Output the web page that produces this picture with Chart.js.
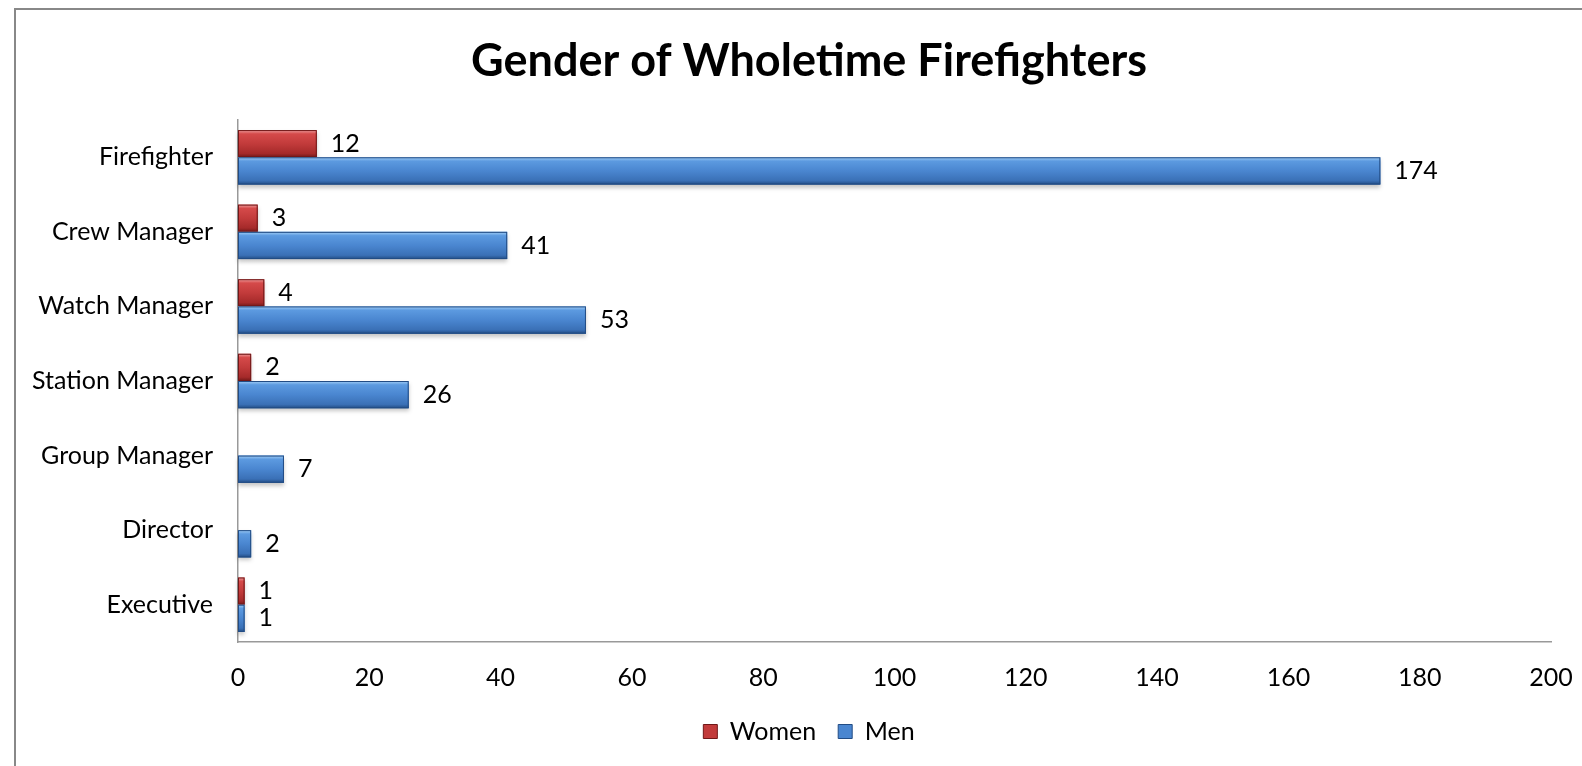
<!DOCTYPE html>
<html>
<head>
<meta charset="utf-8">
<script src="https://cdn.jsdelivr.net/npm/chart.js@4.4.0/dist/chart.umd.min.js"></script>
<style>
  html, body { margin: 0; padding: 0; background: #fff; overflow: hidden; }
  #wrap { width: 1582px; height: 766px; position: relative; }
</style>
</head>
<body>
<div id="wrap"><canvas id="genderChart" width="1582" height="766"></canvas></div>
<script>
// du lieu doc tu hinh
const categories = ['Firefighter', 'Crew Manager', 'Watch Manager', 'Station Manager', 'Group Manager', 'Director', 'Executive'];
const womenValues = [12, 3, 4, 2, 0, 0, 1];
const menValues = [174, 41, 53, 26, 7, 2, 1];
const xTicks = [0, 20, 40, 60, 80, 100, 120, 140, 160, 180, 200];

const FONT = "Lato, 'Open Sans', 'Noto Sans', sans-serif";

// mau cho hieu ung 3D (sang -> chinh -> toi)
const shades = {
    Women: ['#f0a0a0', '#d54a4a', '#c23b3b', '#a52a2a', '#701818'],
    Men: ['#a4d0f7', '#5c9ae0', '#4a86d0', '#3a70b6', '#224c84']
};

// khung xam ben ngoai
const framePlugin = {
    id: 'frame',
    afterLayout(chart) {
        // tieu de va chu thich lech phai mot chut nhu hinh goc
        const shift = 18;
        [chart.titleBlock, chart.legend].forEach(b => {
            if (b) { b.left += shift; b.right += shift; }
        });
    },
    beforeDraw(chart) {
        const ctx = chart.ctx;
        ctx.save();
        ctx.fillStyle = '#fff';
        ctx.fillRect(0, 0, chart.width, chart.height);
        ctx.strokeStyle = '#888';
        ctx.lineWidth = 2;
        ctx.strokeRect(15, 9, chart.width + 20, chart.height + 20);
        ctx.restore();
    }
};

// to gradient cho thanh + ve nhan gia tri
const barStylePlugin = {
    id: 'barStyle',
    afterDatasetsDraw(chart) {
        const ctx = chart.ctx;
        chart.data.datasets.forEach((ds, i) => {
            const meta = chart.getDatasetMeta(i);
            const c = shades[ds.label];
            meta.data.forEach((bar, j) => {
                const v = ds.data[j];
                if (!v) return;
                const p = bar.getProps(['x', 'y', 'base', 'height'], true);
                const top = p.y - p.height / 2;
                const w = p.x - p.base;
                const g = ctx.createLinearGradient(0, top, 0, top + p.height);
                g.addColorStop(0, c[0]);
                g.addColorStop(0.14, c[1]);
                g.addColorStop(0.5, c[2]);
                g.addColorStop(0.86, c[3]);
                g.addColorStop(1, c[4]);
                ctx.save();
                ctx.shadowColor = 'rgba(0,0,0,0.22)';
                ctx.shadowOffsetY = 3;
                ctx.shadowBlur = 4;
                ctx.fillStyle = g;
                ctx.fillRect(p.base, top, w, p.height);
                ctx.restore();
                ctx.save();
                ctx.strokeStyle = c[4];
                ctx.lineWidth = 1;
                ctx.strokeRect(p.base + 0.5, top + 0.5, w - 1, p.height - 1);

                ctx.fillStyle = '#000';
                ctx.font = '25px ' + FONT;
                ctx.textAlign = 'left';
                ctx.textBaseline = 'middle';
                ctx.fillText(String(v), p.x + 14, p.y);
                ctx.restore();
            });
        });
    }
};

new Chart(document.getElementById('genderChart'), {
    type: 'bar',
    data: {
        labels: categories,
        datasets: [
            { label: 'Women', data: womenValues, backgroundColor: shades.Women[2], borderWidth: 0 },
            { label: 'Men', data: menValues, backgroundColor: shades.Men[2], borderWidth: 0 }
        ]
    },
    options: {
        indexAxis: 'y',
        responsive: false,
        animation: false,
        devicePixelRatio: 1,
        categoryPercentage: 0.73,
        barPercentage: 1,
        layout: { padding: { left: 0, right: 0, top: 0, bottom: 12 } },
        scales: {
            x: {
                min: 0,
                max: 200,
                afterBuildTicks(axis) { axis.ticks = xTicks.map(v => ({ value: v })); },
                afterFit(axis) {
                    axis.height = 55;
                    axis.paddingRight = 31;
                    axis.paddingLeft = 0;
                },
                grid: { display: false, drawTicks: false },
                border: { display: true, color: '#999', width: 1.5 },
                ticks: { color: '#000', padding: 21, font: { family: FONT, size: 25 }, maxRotation: 0 }
            },
            y: {
                afterFit(axis) { axis.width = 238; },
                grid: { display: false, drawTicks: false },
                border: { display: true, color: '#999', width: 1.5 },
                ticks: { color: '#000', padding: 25, font: { family: FONT, size: 25 } }
            }
        },
        plugins: {
            title: {
                display: true,
                text: 'Gender of Wholetime Firefighters',
                color: '#000',
                font: { family: FONT, size: 45, weight: 'bold' },
                padding: { top: 34, bottom: 32 }
            },
            legend: {
                position: 'bottom',
                labels: {
                    color: '#000',
                    font: { family: FONT, size: 25 },
                    boxWidth: 14,
                    boxHeight: 14,
                    padding: 22,
                    generateLabels(chart) {
                        return chart.data.datasets.map((ds, i) => ({
                            text: ds.label,
                            fillStyle: shades[ds.label][2],
                            strokeStyle: shades[ds.label][4],
                            lineWidth: 1,
                            datasetIndex: i
                        }));
                    }
                }
            },
            tooltip: { enabled: false }
        }
    },
    plugins: [framePlugin, barStylePlugin]
});
</script>
</body>
</html>
